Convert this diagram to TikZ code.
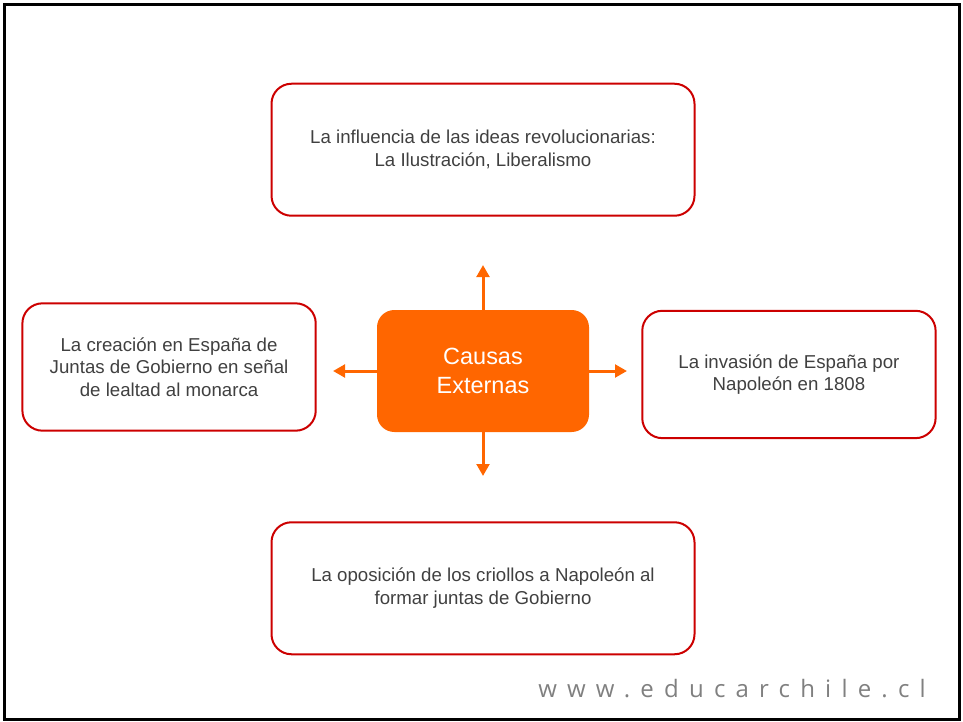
\documentclass[tikz,border=0pt]{standalone}
\usepackage{fontspec}
\setmainfont{Liberation Sans}
\newfontfamily\webfont[LetterSpace=42.5]{Open Sans}
\usepackage{tikz}
\usetikzlibrary{arrows.meta,positioning}
\definecolor{causaorange}{RGB}{255,102,0}
\definecolor{boxred}{RGB}{204,0,0}
\definecolor{textgray}{RGB}{64,64,64}
\definecolor{webgray}{RGB}{128,128,128}

\begin{document}
\begin{tikzpicture}[
    x=0.75pt, y=-0.75pt,
    causa/.style={rectangle, draw=boxred, line width=1.5pt, rounded corners=15pt, text=textgray, align=center, inner sep=0pt, font=\fontsize{14}{17}\selectfont},
    ancha/.style={causa, minimum width=317.25pt, minimum height=99pt},
    lateral/.style={causa, minimum width=220pt, minimum height=95.5pt},
    centro/.style={rectangle, fill=causaorange, rounded corners=13pt, text=white, align=center, minimum width=159pt, minimum height=91.5pt, font=\fontsize{17.6}{21.5}\selectfont},
    arrow/.style={causaorange, line width=2.25pt, -{Triangle[width=9.5pt,length=9pt]}}
]
\useasboundingbox (0,0) rectangle (963,721);
\draw[line width=2.25pt] (4.5,4.5) rectangle (959,719);

\node[centro] (causas) at (483,371) {Causas\\Externas};
\node[ancha, above=69.75pt of causas] (ideas) {La influencia de las ideas revolucionarias:\\La Ilustración, Liberalismo};
\node[ancha, below=66.75pt of causas] (criollos) {La oposición de los criollos a Napoleón al\\formar juntas de Gobierno};
\node[lateral, left=45pt of causas, yshift=3pt] (juntas) {La creación en España de\\Juntas de Gobierno en señal\\de lealtad al monarca};
\node[lateral, right=39pt of causas, yshift=-2.6pt] (invasion) {La invasión de España por\\Napoleón en 1808};

\coordinate (tipUp) at (483,265);
\coordinate (tipDown) at (483,476);
\coordinate (tipLeft) at (333,371);
\coordinate (tipRight) at (627,371);

\draw[arrow] (causas.north) -- (tipUp);
\draw[arrow] (causas.south) -- (tipDown);
\draw[arrow] (causas.west) -- (tipLeft);
\draw[arrow] (causas.east) -- (tipRight);

\node[font=\webfont\fontsize{18}{18}\selectfont, text=webgray, anchor=base west, inner sep=0pt] (web) at (538,697) {www.educarchile.cl};

\end{tikzpicture}
\end{document}
